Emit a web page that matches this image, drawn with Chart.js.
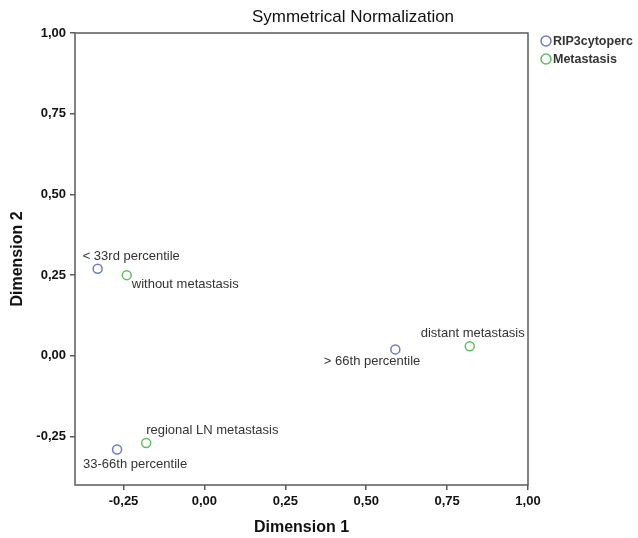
<!DOCTYPE html>
<html>
<head>
    <title>Symmetrical Normalization</title>
    <script src="https://cdn.jsdelivr.net/npm/chart.js"></script>
    <style>
        body { margin: 0; background: #fff; }
    </style>
</head>
<body>
    <canvas id="myChart" width="638" height="538"></canvas>

    <script>
        // correspondence analysis coordinates
        var seriesNames = ['RIP3cytoperc', 'Metastasis'];
        var rowLabels = ['< 33rd percentile', '33-66th percentile', '> 66th percentile'];
        var rowDim1 = [-0.33, -0.27, 0.59];
        var rowDim2 = [0.27, -0.29, 0.02];
        var colLabels = ['without metastasis', 'regional LN metastasis', 'distant metastasis'];
        var colDim1 = [-0.24, -0.18, 0.82];
        var colDim2 = [0.25, -0.27, 0.03];
        var tickValues = [-0.25, 0, 0.25, 0.5, 0.75, 1];

        // where each point's text sits relative to the marker [dx, dy, align]
        var rowLabelPos = [[-15, -12, 'left'], [-34, 15, 'left'], [25, 12, 'right']];
        var colLabelPos = [[5, 9, 'left'], [0, -13, 'left'], [55, -13, 'right']];

        var blue = '#6b7cc4';
        var green = '#5cbf5c';
        var frameColor = '#5a5a5a';

        function toPoints(xs, ys) {
            return xs.map(function (x, i) { return { x: x, y: ys[i] }; });
        }

        var pointLabels = {
            id: 'pointLabels',
            afterDatasetsDraw: function (chart) {
                var ctx = chart.ctx;
                var sets = [[rowLabels, rowLabelPos], [colLabels, colLabelPos]];
                ctx.save();
                ctx.font = '13px "Liberation Sans", Arial, sans-serif';
                ctx.fillStyle = '#333';
                ctx.textBaseline = 'middle';
                sets.forEach(function (s, d) {
                    chart.getDatasetMeta(d).data.forEach(function (pt, i) {
                        var p = s[1][i];
                        ctx.textAlign = p[2];
                        ctx.fillText(s[0][i], pt.x + p[0], pt.y + p[1]);
                    });
                });
                ctx.restore();
            }
        };

        var frameAndLegend = {
            id: 'frameAndLegend',
            afterDraw: function (chart) {
                var ctx = chart.ctx;
                var a = chart.chartArea;
                ctx.save();
                ctx.strokeStyle = frameColor;
                ctx.lineWidth = 1.5;
                ctx.strokeRect(a.left, a.top, a.right - a.left, a.bottom - a.top);

                // title
                ctx.fillStyle = '#111';
                ctx.font = '17px "Liberation Sans", Arial, sans-serif';
                ctx.textAlign = 'center';
                ctx.textBaseline = 'middle';
                ctx.fillText('Symmetrical Normalization', 353, 17);

                // legend
                ctx.font = 'bold 12.5px "Liberation Sans", Arial, sans-serif';
                ctx.textAlign = 'left';
                [blue, green].forEach(function (c, i) {
                    var y = 41 + i * 18;
                    ctx.beginPath();
                    ctx.arc(546, y, 5, 0, Math.PI * 2);
                    ctx.strokeStyle = c;
                    ctx.lineWidth = 1.5;
                    ctx.stroke();
                    ctx.fillStyle = '#333';
                    ctx.fillText(seriesNames[i], 553, y + 1);
                });
                ctx.restore();
            }
        };

        function axis(titleText, fixSize, titlePad) {
            return {
                type: 'linear',
                min: -0.4,
                max: 1.0,
                afterBuildTicks: function (scale) {
                    scale.ticks = tickValues.map(function (v) { return { value: v }; });
                },
                afterFit: fixSize,
                border: { display: false },
                grid: {
                    drawOnChartArea: false,
                    drawTicks: true,
                    tickLength: 5,
                    color: frameColor,
                    lineWidth: 1.5
                },
                ticks: {
                    padding: 4,
                    color: '#111',
                    font: { family: '"Liberation Sans", Arial, sans-serif', size: 13, weight: 'bold' },
                    callback: function (v) { return v.toFixed(2).replace('.', ','); }
                },
                title: {
                    display: true,
                    text: titleText,
                    color: '#111',
                    font: { family: '"Liberation Sans", Arial, sans-serif', size: 16, weight: 'bold' },
                    padding: titlePad
                }
            };
        }

        var ctx = document.getElementById('myChart').getContext('2d');
        var myChart = new Chart(ctx, {
            type: 'scatter',
            data: {
                datasets: [
                    {
                        label: seriesNames[0],
                        data: toPoints(rowDim1, rowDim2),
                        borderColor: blue,
                        backgroundColor: 'rgba(0,0,0,0)',
                        pointRadius: 4.5,
                        pointBorderWidth: 1.5
                    },
                    {
                        label: seriesNames[1],
                        data: toPoints(colDim1, colDim2),
                        borderColor: green,
                        backgroundColor: 'rgba(0,0,0,0)',
                        pointRadius: 4.5,
                        pointBorderWidth: 1.5
                    }
                ]
            },
            options: {
                responsive: false,
                animation: false,
                events: [],
                layout: { padding: { top: 33, right: 110, left: 0, bottom: 0 } },
                plugins: {
                    legend: { display: false },
                    tooltip: { enabled: false }
                },
                scales: {
                    x: axis('Dimension 1', function (s) { s.height = 53; }, { top: 0, bottom: 1 }),
                    y: axis('Dimension 2', function (s) { s.width = 75; }, { top: 8, bottom: 0 })
                }
            },
            plugins: [pointLabels, frameAndLegend]
        });
    </script>
</body>
</html>
